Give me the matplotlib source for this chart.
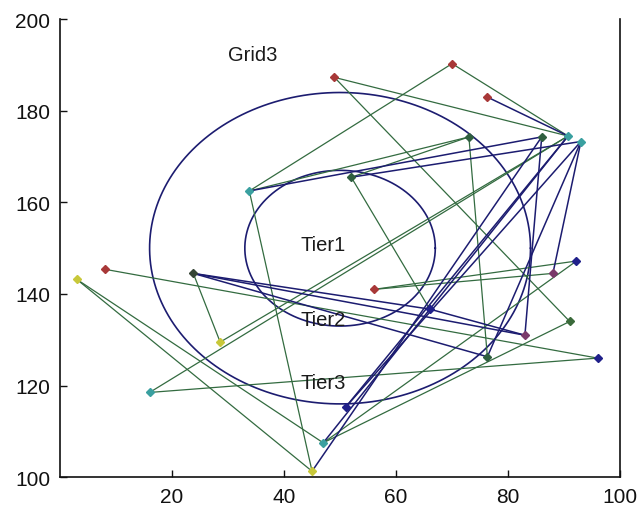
import numpy as np
import matplotlib
matplotlib.use("Agg")
import matplotlib.pyplot as plt

# node positions
node_names = ["A", "B", "C", "D", "E", "F", "G", "H", "I", "J", "K", "L", "M",
              "N", "O", "P", "Q", "R", "S", "T", "U", "V", "W", "X", "Y"]
node_x = [45, 3, 8, 16, 28.6, 23.8, 33.8, 52, 49, 70, 76.3, 73, 86,
          90.7, 93, 92.2, 88, 56, 66, 91, 83, 76.3, 96, 51, 47]
node_y = [101.3, 143.2, 145.4, 118.5, 129.5, 144.5, 162.5, 165.5, 187.3, 190.3, 183, 174.3, 174.3,
          174.5, 173.3, 147.2, 144.5, 141, 136.7, 134, 131, 126.3, 126, 115.3, 107.5]
node_kind = ["yellow", "yellow", "red", "cyan", "yellow", "dark", "cyan", "dkgreen", "red", "red", "red", "dkgreen", "dkgreen",
             "cyan", "cyan", "blue", "purple", "red", "blue", "green", "purple", "dkgreen", "blue", "blue", "cyan"]

green_edges = [("B", "A"), ("B", "Y"), ("C", "W"), ("D", "W"), ("D", "N"), ("E", "N"),
               ("E", "F"), ("G", "A"), ("G", "J"), ("J", "N"), ("I", "N"), ("I", "T"),
               ("L", "V"), ("L", "H"), ("H", "S"), ("R", "P"), ("R", "Q"), ("P", "Y"),
               ("T", "Y"), ("G", "L")]
navy_edges = [("F", "U"), ("F", "S"), ("F", "V"), ("G", "M"), ("H", "O"), ("K", "N"),
              ("M", "U"), ("O", "Q"), ("N", "X"), ("O", "X"), ("N", "Y"), ("M", "A"),
              ("S", "U"), ("V", "O")]

# rings around the centre
ring_center = (50, 150)
ring_radius = [17, 34]

labels = ["Grid3", "Tier1", "Tier2", "Tier3"]
label_x = [30, 43, 43, 43]
label_y = [192.4, 150.9, 134.5, 120.7]

kind_colors = {"yellow": "#c8c83a", "red": "#a83838", "cyan": "#3aa0a0", "dark": "#354535",
               "dkgreen": "#2f5f3f", "blue": "#20208a", "purple": "#7a3a6a", "green": "#3a6a3a"}
green = "#336b40"
navy = "#1c1c70"

pos = {n: (x, y) for n, x, y in zip(node_names, node_x, node_y)}

fig = plt.figure(figsize=(6.38, 5.06), dpi=100)
ax = fig.add_axes([0.094, 0.055, 0.878, 0.905])

th = np.linspace(0, 2 * np.pi, 400)
for r in ring_radius:
    ax.plot(ring_center[0] + r * np.cos(th), ring_center[1] + r * np.sin(th),
            color=navy, lw=1.2)

for a, b in green_edges:
    ax.plot([pos[a][0], pos[b][0]], [pos[a][1], pos[b][1]], color=green, lw=0.9)
for a, b in navy_edges:
    ax.plot([pos[a][0], pos[b][0]], [pos[a][1], pos[b][1]], color=navy, lw=1.1)

for n, k in zip(node_names, node_kind):
    ax.plot(pos[n][0], pos[n][1], marker="D", ms=4, color=kind_colors[k], mec=kind_colors[k])

for t, x, y in zip(labels, label_x, label_y):
    ax.text(x, y, t, fontsize=14.5, va="center", ha="left", family="Liberation Sans", color="#1a1a1a")

ax.set_xlim(0, 100)
ax.set_ylim(100, 200)
ax.set_xticks([20, 40, 60, 80, 100])
ax.set_yticks([100, 120, 140, 160, 180, 200])
ax.tick_params(direction="in", length=5, labelsize=15, width=1, pad=7, colors="#111111")
for lab in ax.get_xticklabels() + ax.get_yticklabels():
    lab.set_family("Liberation Sans")
ax.spines["top"].set_visible(False)
for s in ["left", "bottom", "right"]:
    ax.spines[s].set_linewidth(1.2)
    ax.spines[s].set_color("#111111")

fig.savefig("out.png", dpi=100)
